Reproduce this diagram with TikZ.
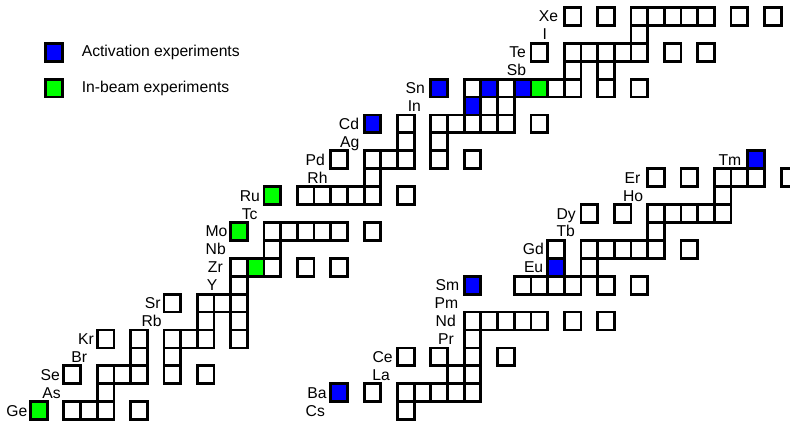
\documentclass[tikz,border=0pt]{standalone}
\usepackage{fontspec}
\setmainfont{Liberation Sans}
\usetikzlibrary{positioning}

\begin{document}
\begin{tikzpicture}[x=16.68pt, y=17.92pt,
    font=\fontsize{15.7pt}{18pt}\selectfont,
    cell/.style={draw=black, line width=2.8pt},
    actcell/.style={cell, fill=blue},
    beamcell/.style={cell, fill=green},
    elem/.style={anchor=east, inner sep=3pt, text height=11pt, text depth=0pt},
    legbox/.style={draw=black, line width=2.8pt, minimum width=16.68pt, minimum height=17.92pt, inner sep=0pt},
    legtext/.style={anchor=west, inner sep=0pt}]
  \useasboundingbox (-30.5pt,-1.4pt) rectangle (759.5pt,419.6pt);
  %
  % stable nuclides, Ge .. Xe
  \foreach \r/\cols in {0/{0,2,3,4,6}, 1/{4}, 2/{2,4,5,6,8,10}, 3/{6,8},
      4/{4,6,8,9,10,12}, 5/{10,12}, 6/{8,10,11,12}, 7/{12},
      8/{12,13,14,16,18}, 9/{14}, 10/{12,14,15,16,17,18,20},
      12/{14,16,17,18,19,20,22}, 13/{20}, 14/{18,20,21,22,24,26},
      15/{22,24}, 16/{20,22,24,25,26,27,28,30}, 17/{26,28},
      18/{24,26,27,28,29,30,31,32,34,36}, 19/{32,34},
      20/{30,32,33,34,35,36,38,40}, 21/{36}, 22/{32,34,36,37,38,39,40,42,44}}
    \foreach \c in \cols
      \draw[cell] (\c,\r) rectangle ++(1,1);
  %
  % stable nuclides, Cs .. Tm
  \foreach \r/\cols in {0/{22}, 1/{18,20,22,23,24,25,26}, 2/{25,26},
      3/{22,24,26,28}, 4/{26}, 5/{26,27,28,29,30,32,34},
      7/{26,29,30,31,32,34,36}, 8/{31,33}, 9/{31,33,34,35,36,37,39},
      10/{37}, 11/{33,35,37,38,39,40,41}, 12/{41}, 13/{37,39,41,42,43,45}}
    \foreach \c in \cols
      \draw[cell] (\c,\r) rectangle ++(1,1);
  %
  \foreach \c/\r in {20/16, 26/17, 24/18, 27/18, 29/18, 18/1, 26/7, 31/8, 43/14}
    \draw[actcell] (\c,\r) rectangle ++(1,1);
  \foreach \c/\r in {0/0, 13/8, 12/10, 14/12, 30/18}
    \draw[beamcell] (\c,\r) rectangle ++(1,1);
  %
  % element names
  \foreach \el/\c/\r in {Ge/0/0, As/2/1, Se/1.95/2, Br/3.59/3, Kr/3.99/4,
      Rb/8.05/5, Sr/7.99/6, Y/11.4/7, Zr/11.72/8, Nb/11.9/9, Mo/12/10,
      Tc/13.8/11, Ru/13.94/12, Rh/18/13, Pd/17.84/14, Ag/19.9/15,
      Cd/19.89/16, In/23.6/17, Sn/23.83/18, Sb/29.9/19, Te/29.89/20,
      I/31.15/21, Xe/31.82/22,
      Cs/17.84/0, Ba/17.94/1, La/21.73/2, Ce/21.9/3, Pr/25.57/4,
      Nd/25.69/5, Pm/25.83/6, Sm/25.89/7, Eu/30.93/8, Gd/30.97/9,
      Tb/32.83/10, Dy/32.88/11, Ho/36.92/12, Er/36.75/13, Tm/42.8/14}
    \node[elem] (\el) at (\c,\r+0.5) {\el};
  %
  % legend
  \node[legbox, fill=blue] (actkey) at (1.4,20.5) {};
  \node[legbox, fill=green] (beamkey) at (1.4,18.5) {};
  \node[legtext, right=18pt of actkey] (actlabel) {Activation experiments};
  \node[legtext, right=18pt of beamkey] (beamlabel) {In-beam experiments};
\end{tikzpicture}
\end{document}
